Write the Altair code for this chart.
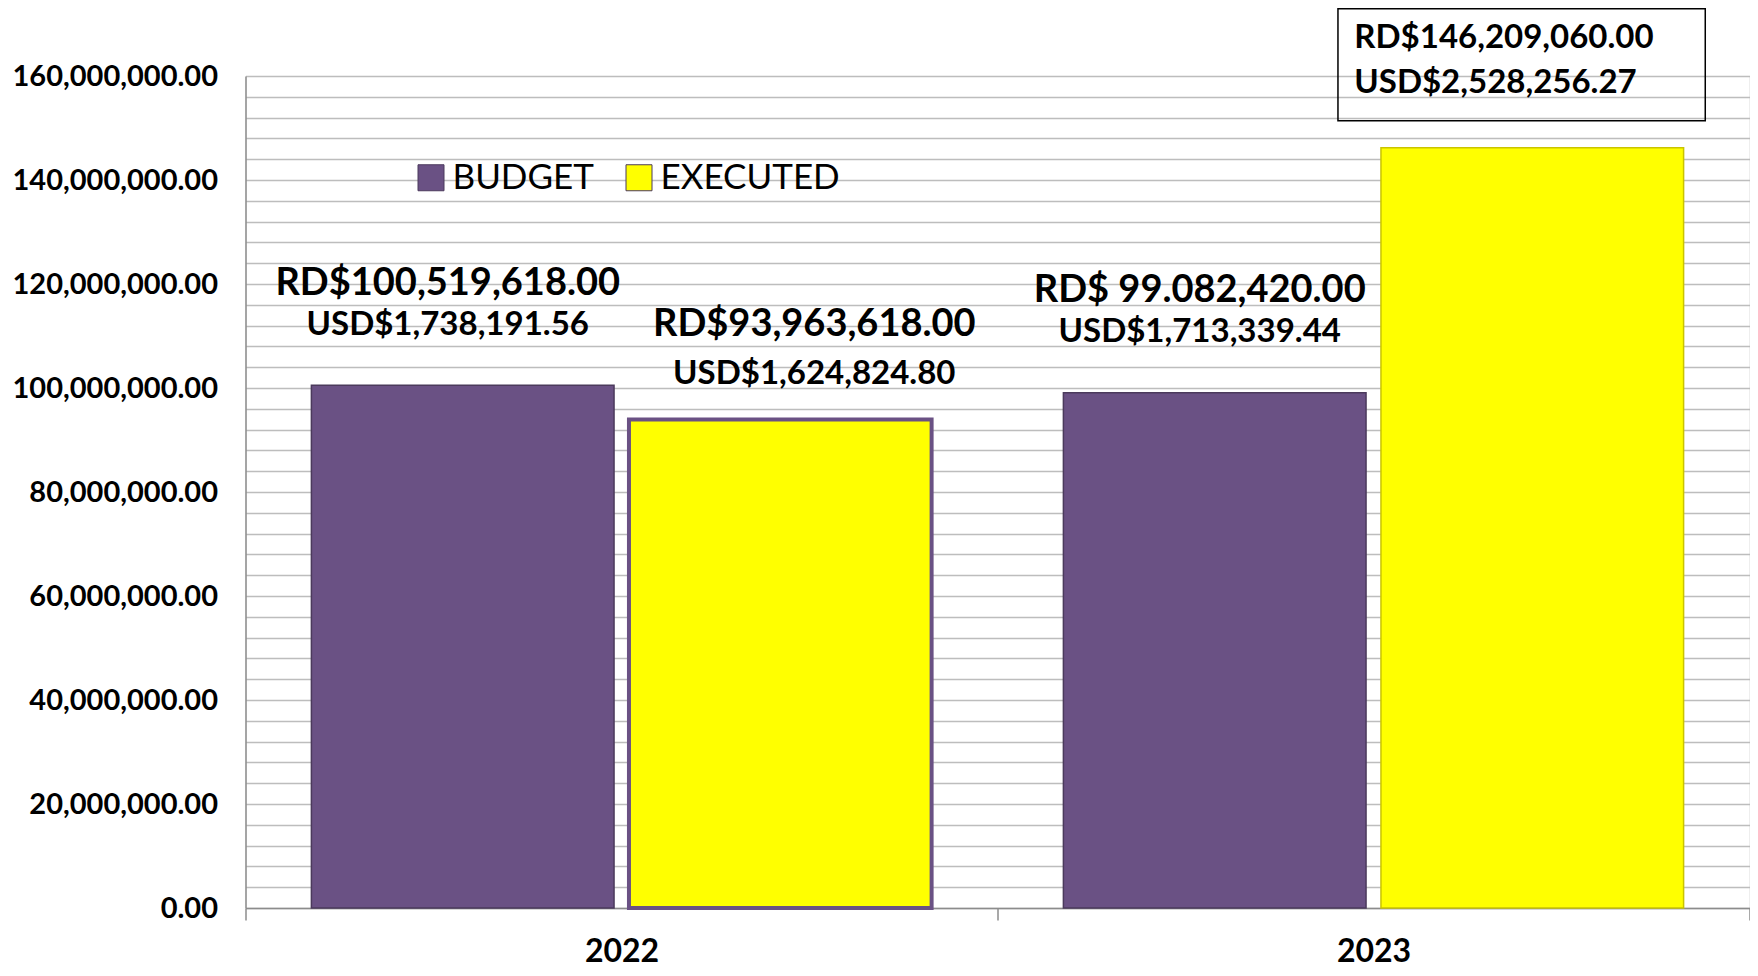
import altair as alt
import pandas as pd

years = ["2022", "2022", "2023", "2023"]
series = ["BUDGET", "EXECUTED", "BUDGET", "EXECUTED"]
values = [100519618.00, 93963618.00, 99082420.00, 146209060.00]
rd_labels = ["RD$100,519,618.00", "RD$93,963,618.00", "RD$ 99.082,420.00", "RD$146,209,060.00"]
usd_labels = ["USD$1,738,191.56", "USD$1,624,824.80", "USD$1,713,339.44", "USD$2,528,256.27"]

series_domain = ["BUDGET", "EXECUTED"]
series_colors = ["#6A5184", "#FFFF00"]

df = pd.DataFrame({"year": years, "series": series, "value": values,
                   "rd": rd_labels, "usd": usd_labels})

FONT = "Lato"
tick_values = list(range(0, 160_000_001, 4_000_000))

x_enc = alt.X("year:N", title=None,
              scale=alt.Scale(paddingInner=0, paddingOuter=0),
              axis=alt.Axis(labelAngle=0, labelFont=FONT, labelFontWeight="bold",
                            labelFontSize=32, labelColor="black",
                            labelBaseline="alphabetic", labelPadding=41,
                            domainColor="#8C8C8C", domainWidth=1.5,
                            tickColor="#8C8C8C", tickWidth=1.5, tickSize=12,
                            tickBand="extent", grid=False))
xo_enc = alt.XOffset("series:N",
                     scale=alt.Scale(domain=series_domain, paddingInner=0.047, paddingOuter=0.2075))
y_enc = alt.Y("value:Q", title=None,
              scale=alt.Scale(domain=[0, 160_000_000], nice=False, zero=True),
              axis=alt.Axis(values=tick_values, tickCount=60,
                            labelExpr="datum.value % 20000000 == 0 ? format(datum.value, ',.2f') : ''",
                            labelFont=FONT, labelFontWeight="bold", labelFontSize=29,
                            labelColor="black", labelPadding=28, ticks=False,
                            labelLimit=400,
                            domainColor="#8C8C8C", domainWidth=1.5,
                            grid=True, gridColor="#BDBDBD", gridWidth=1.5,
                            labelOverlap=False))

base = alt.Chart(df)

is_exec22 = "datum.year == '2022' && datum.series == 'EXECUTED'"
is_exec23 = "datum.year == '2023' && datum.series == 'EXECUTED'"

bars = base.mark_bar().encode(
    x=x_enc, xOffset=xo_enc, y=y_enc,
    color=alt.Color("series:N",
                    scale=alt.Scale(domain=series_domain, range=series_colors),
                    legend=alt.Legend(title=None, orient="none", direction="horizontal",
                                      legendX=168, legendY=84,
                                      symbolType="square", symbolSize=676,
                                      symbolStrokeColor="#4B3A5C", symbolStrokeWidth=1,
                                      labelFont=FONT, labelFontSize=35, labelColor="black",
                                      labelOffset=4, columnPadding=27, labelLimit=400)),
    stroke=alt.when(is_exec22).then(alt.value("#6A5184"))
              .when("datum.series == 'BUDGET'").then(alt.value("#4B3A5C"))
              .otherwise(alt.value("#C9C400")),
    strokeWidth=alt.when(is_exec22).then(alt.value(4)).otherwise(alt.value(1.5)),
)

budget_rows = base.transform_filter("datum.series == 'BUDGET'")
exec22_rows = base.transform_filter(is_exec22)
boxed = base.transform_filter(is_exec23)

pos = dict(x=alt.X("year:N"), xOffset=alt.XOffset("series:N"), y=alt.Y("value:Q"))

def labels(rows, dx, dy_rd, dy_usd):
    rd = rows.mark_text(font=FONT, fontWeight="bold", fontSize=38, color="black",
                        baseline="middle", dx=dx, dy=dy_rd).encode(text="rd:N", **pos)
    usd = rows.mark_text(font=FONT, fontWeight="bold", fontSize=33, color="black",
                         baseline="middle", dx=dx, dy=dy_usd).encode(text="usd:N", **pos)
    return [rd, usd]

text_layers = labels(budget_rows, -15, -101.5, -60.5) + labels(exec22_rows, 34, -94, -45)

box = boxed.mark_rect(filled=False, stroke="black", strokeWidth=1.5,
                      yOffset=-139, y2Offset=-27).encode(
    x=alt.X("year:N"),
    xOffset=alt.XOffset("series:N",
                        scale=alt.Scale(domain=["EXECUTED"], paddingInner=0,
                                        paddingOuter=0.5237, align=0.885)),
    y=alt.Y("value:Q"), y2=alt.Y2("value"))
box_rd = boxed.mark_text(font=FONT, fontWeight="bold", fontSize=33, color="black",
                         align="left", baseline="middle", dx=-178, dy=-110).encode(text="rd:N", **pos)
box_usd = boxed.mark_text(font=FONT, fontWeight="bold", fontSize=33, color="black",
                          align="left", baseline="middle", dx=-178, dy=-65).encode(text="usd:N", **pos)

main = alt.layer(bars, *text_layers, box_rd, box_usd)
chart = alt.layer(main, box).resolve_scale(xOffset="independent").properties(
    width=1504, height=832,
    autosize=alt.AutoSizeParams(type="none"),
    padding={"left": 237.5, "top": 68, "right": 0, "bottom": 60},
).configure_view(stroke=None).configure(background="white")

chart.save("out.html", embed_options={"renderer": "svg", "actions": False})
